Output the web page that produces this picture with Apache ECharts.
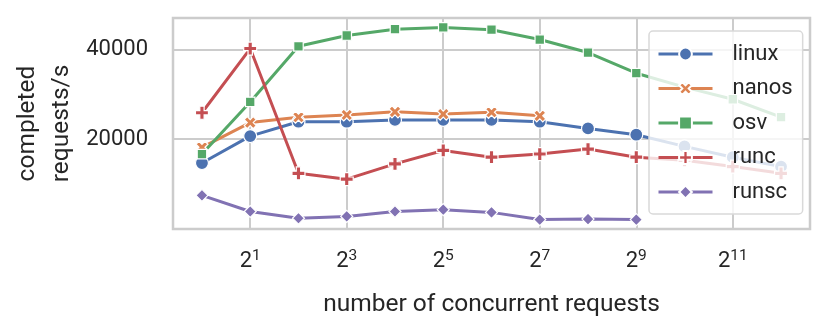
<!DOCTYPE html>
<html>
<head>
<meta charset="utf-8">
<script src="https://cdn.jsdelivr.net/npm/echarts@6/dist/echarts.min.js"></script>
<style>
  html, body { margin: 0; padding: 0; background: #fff; }
  #chart { width: 831px; height: 332px; }
</style>
</head>
<body>
<div id="chart"></div>
<script>
// concurrent requests (x), 2^0 .. 2^12
var concurrency = [1, 2, 4, 8, 16, 32, 64, 128, 256, 512, 1024, 2048, 4096];
var xTickValues = [2, 8, 32, 128, 512, 2048];

// completed requests/s per runtime
var linux = [14700, 20700, 23900, 23900, 24300, 24300, 24300, 23900, 22400, 21000, 18400, 16000, 13900];
var nanos = [18200, 23700, 24900, 25400, 26100, 25600, 26000, 25200];
var osv   = [16700, 28300, 40700, 43100, 44500, 44900, 44400, 42200, 39300, 34700, 31600, 28900, 24900];
var runc  = [25900, 40200, 12400, 11100, 14500, 17500, 16000, 16700, 17800, 16000, 15300, 13900, 12400];
var runsc = [7500, 3900, 2400, 2800, 3900, 4300, 3700, 2100, 2200, 2100];

var FONT = 'Roboto';
var TXT = '#262626';
var GRID = '#cccccc';

// filled plus / filled x like matplotlib 'P' and 'X'
var plusPath = 'path://M2,0L4,0L4,2L6,2L6,4L4,4L4,6L2,6L2,4L0,4L0,2L2,2Z';
var xPath = 'path://M1,0L2,1L3,0L4,1L3,2L4,3L3,4L2,3L1,4L0,3L1,2L0,1Z';

function pairs(vals) {
  return vals.map(function (v, i) { return [concurrency[i], v]; });
}

function makeSeries(name, vals, color, symbol, size) {
  return {
    name: name,
    type: 'line',
    data: pairs(vals),
    symbol: symbol,
    symbolSize: size,
    showAllSymbol: true,
    lineStyle: { width: 3, color: color },
    itemStyle: { color: color, borderColor: '#ffffff', borderWidth: 1.2 },
    emphasis: { disabled: true }
  };
}

var myChart = echarts.init(document.getElementById('chart'), null, { renderer: 'canvas' });

myChart.setOption({
  animation: false,
  textStyle: { fontFamily: FONT, color: TXT },
  grid: {
    left: 173, right: 21, top: 18, bottom: 103,
    outerBoundsMode: 'none',
    containLabel: false,
    show: true, borderColor: GRID, borderWidth: 2.5, backgroundColor: 'transparent'
  },
  legend: {
    orient: 'vertical',
    left: 649, top: 31,
    padding: [12, 10, 11, 8],
    itemWidth: 54, itemHeight: 16, itemGap: 12.5,
    lineStyle: { width: 3 },
    backgroundColor: 'rgba(255,255,255,0.8)',
    borderColor: '#d9d9d9', borderWidth: 1.5, borderRadius: 4,
    textStyle: { fontFamily: FONT, fontSize: 22, color: TXT, padding: [0, 0, 0, 15] }
  },
  xAxis: {
    type: 'log',
    logBase: 2,
    min: Math.pow(2, -0.6),
    max: Math.pow(2, 12.6),
    name: 'number of concurrent requests',
    nameLocation: 'middle',
    nameGap: 61,
    nameMoveOverlap: false,
    nameTextStyle: { fontFamily: FONT, fontSize: 24.5, color: TXT, lineHeight: 30 },
    axisLine: { show: false },
    axisTick: { show: false, customValues: xTickValues },
    splitLine: { show: true, lineStyle: { color: GRID, width: 2 } },
    axisLabel: {
      customValues: xTickValues,
      margin: 19,
      formatter: function (v) {
        return '{b|2}{s|' + Math.round(Math.log2(v)) + '}';
      },
      rich: {
        b: { fontFamily: FONT, fontSize: 22, lineHeight: 26, color: TXT },
        s: { fontFamily: FONT, fontSize: 15.5, lineHeight: 16, color: TXT, verticalAlign: 'top' }
      }
    }
  },
  yAxis: {
    type: 'value',
    min: 0,
    max: 47000,
    interval: 20000,
    name: 'completed\nrequests/s',
    nameLocation: 'middle',
    nameRotate: 90,
    nameGap: 94,
    nameMoveOverlap: false,
    nameTextStyle: { fontFamily: FONT, fontSize: 24.5, color: TXT, lineHeight: 34 },
    axisLine: { show: false },
    axisTick: { show: false },
    splitLine: { show: true, lineStyle: { color: GRID, width: 2 } },
    axisLabel: {
      margin: 25,
      fontFamily: FONT, fontSize: 22, color: TXT,
      showMinLabel: false, showMaxLabel: false,
      formatter: function (v) { return String(v); }
    }
  },
  series: [
    makeSeries('linux', linux, '#4c72b0', 'circle', 13),
    makeSeries('nanos', nanos, '#dd8452', xPath, 12),
    makeSeries('osv', osv, '#55a868', 'rect', 9.5),
    makeSeries('runc', runc, '#c44e52', plusPath, 13),
    makeSeries('runsc', runsc, '#8172b3', 'diamond', 12)
  ]
});
</script>
</body>
</html>
